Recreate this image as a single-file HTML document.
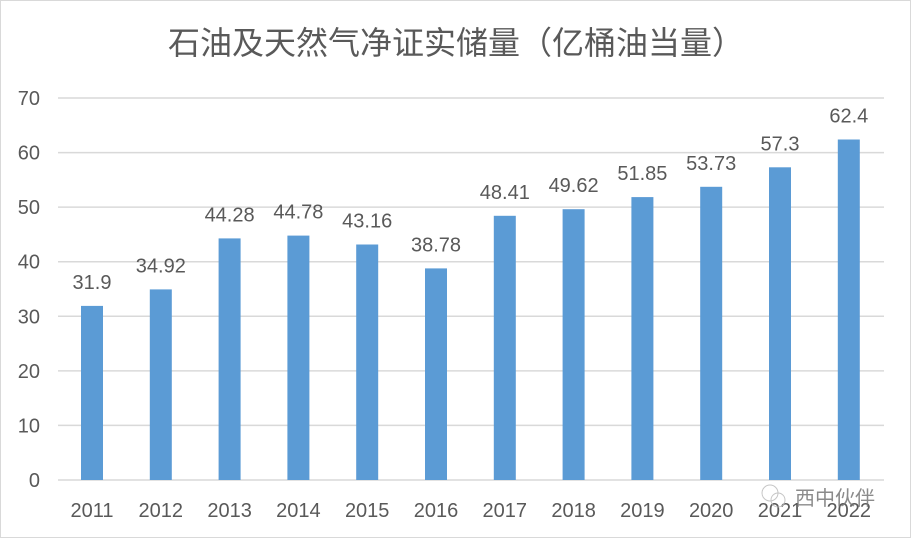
<!DOCTYPE html>
<html><head><meta charset="utf-8"><style>
html,body{margin:0;padding:0;background:#fff}
svg{display:block}
text{font-family:"Liberation Sans","Noto Sans CJK SC",sans-serif;fill:#595959}
</style></head><body>
<svg width="912" height="539" viewBox="0 0 912 539" xmlns="http://www.w3.org/2000/svg">
<rect x="0.5" y="0.5" width="910" height="537" fill="#fff" stroke="#d9d9d9"/>
<text x="456" y="54" font-size="32" text-anchor="middle">石油及天然气净证实储量（亿桶油当量）</text>
<g stroke="#d9d9d9" stroke-width="1.5">
<line x1="58" x2="884" y1="98" y2="98"/>
<line x1="58" x2="884" y1="152.6" y2="152.6"/>
<line x1="58" x2="884" y1="207.1" y2="207.1"/>
<line x1="58" x2="884" y1="261.7" y2="261.7"/>
<line x1="58" x2="884" y1="316.3" y2="316.3"/>
<line x1="58" x2="884" y1="370.9" y2="370.9"/>
<line x1="58" x2="884" y1="425.4" y2="425.4"/>
<line x1="58" x2="884" y1="480" y2="480"/>
</g>
<g font-size="20" text-anchor="end">
<text x="40" y="105">70</text><text x="40" y="159.6">60</text><text x="40" y="214">50</text>
<text x="40" y="268.7">40</text><text x="40" y="323.3">30</text><text x="40" y="377.9">20</text>
<text x="40" y="432.4">10</text><text x="40" y="487">0</text>
</g>
<g fill="#5b9bd5">
<rect x="81" y="305.9" width="22" height="174.1"/>
<rect x="149.8" y="289.4" width="22" height="190.6"/>
<rect x="218.6" y="238.4" width="22" height="241.6"/>
<rect x="287.4" y="235.6" width="22" height="244.4"/>
<rect x="356.2" y="244.5" width="22" height="235.5"/>
<rect x="425" y="268.4" width="22" height="211.6"/>
<rect x="493.8" y="215.8" width="22" height="264.2"/>
<rect x="562.6" y="209.2" width="22" height="270.8"/>
<rect x="631.4" y="197.1" width="22" height="282.9"/>
<rect x="700.2" y="186.8" width="22" height="293.2"/>
<rect x="769" y="167.3" width="22" height="312.7"/>
<rect x="837.8" y="139.5" width="22" height="340.5"/>
</g>
<g font-size="20" text-anchor="middle">
<text x="92" y="289">31.9</text>
<text x="160.8" y="272.4">34.92</text>
<text x="229.6" y="221.4">44.28</text>
<text x="298.4" y="218.6">44.78</text>
<text x="367.2" y="227.5">43.16</text>
<text x="436" y="251.4">38.78</text>
<text x="504.8" y="198.8">48.41</text>
<text x="573.6" y="192.2">49.62</text>
<text x="642.4" y="180.1">51.85</text>
<text x="711.2" y="169.8">53.73</text>
<text x="780" y="150.3">57.3</text>
<text x="848.8" y="122.5">62.4</text>
</g>
<g font-size="20" text-anchor="middle">
<text x="92" y="517">2011</text>
<text x="160.8" y="517">2012</text>
<text x="229.6" y="517">2013</text>
<text x="298.4" y="517">2014</text>
<text x="367.2" y="517">2015</text>
<text x="436" y="517">2016</text>
<text x="504.8" y="517">2017</text>
<text x="573.6" y="517">2018</text>
<text x="642.4" y="517">2019</text>
<text x="711.2" y="517">2020</text>
<text x="780" y="517">2021</text>
<text x="848.8" y="517">2022</text>
</g>
<g opacity="0.85">
<circle cx="770" cy="493" r="8" fill="none" stroke="#bbb"/>
<circle cx="778" cy="500" r="7" fill="none" stroke="#bbb"/>
<text x="795" y="505" font-size="20" style="fill:#777">西中伙伴</text>
</g>
</svg>
</body></html>
